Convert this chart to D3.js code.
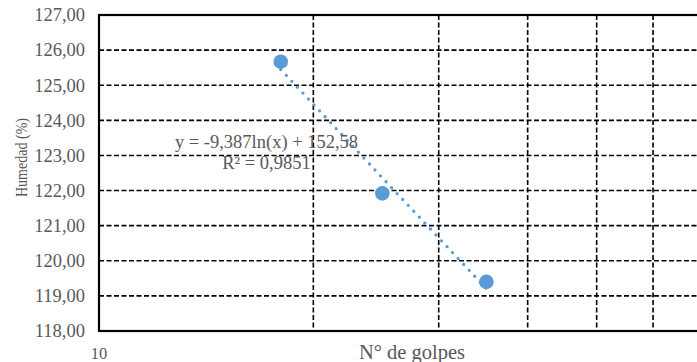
<!DOCTYPE html>
<html>
<head>
<meta charset="utf-8">
<script src="https://cdn.jsdelivr.net/npm/d3@7"></script>
<style>
  html, body { margin: 0; padding: 0; background: #fff; overflow: hidden; }
  svg { display: block; }
  text { font-family: "Liberation Serif", "Times New Roman", serif; fill: #595959; }
</style>
</head>
<body>
<svg id="chart" width="697" height="362"></svg>
<script>
// Number of blows vs moisture content (liquid limit test)
const golpes = [18, 25, 35];
const humedad = [125.67, 121.92, 119.40];

// Axis ticks
const yTicks = [118, 119, 120, 121, 122, 123, 124, 125, 126, 127];
const xLabelTicks = [10];
const xGridTicks = [20, 30, 40, 50, 60, 70, 80, 90];

// Logarithmic trendline y = a·ln(x) + b
const trendA = -9.387;
const trendB = 152.58;
const trendRange = [18, 35];
const trendText = ["y = -9,387ln(x) + 152,58", "R² = 0,9851"];

const xTitle = "N° de golpes";
const yTitle = "Humedad (%)";

const svg = d3.select("#chart");
const m = { left: 99, top: 15, bottom: 331, right: 811 };

const x = d3.scaleLog().domain([10, 100]).range([m.left, m.right]);
const y = d3.scaleLinear().domain([118, 127]).range([m.bottom, m.top]);

const es = d3.formatLocale({ decimal: ",", thousands: ".", grouping: [3], currency: ["", ""] });
const fmt = es.format(".2f");

// Horizontal gridlines
svg.append("g")
  .selectAll("line")
  .data(yTicks.filter(v => v > 118 && v < 127))
  .join("line")
  .attr("x1", m.left).attr("x2", m.right)
  .attr("y1", d => y(d)).attr("y2", d => y(d))
  .attr("stroke", "#000").attr("stroke-width", 1.6)
  .attr("stroke-dasharray", "5,2.5");

// Vertical gridlines
svg.append("g")
  .selectAll("line")
  .data(xGridTicks)
  .join("line")
  .attr("x1", d => x(d)).attr("x2", d => x(d))
  .attr("y1", m.top).attr("y2", m.bottom)
  .attr("stroke", "#000").attr("stroke-width", 1.6)
  .attr("stroke-dasharray", "5,2.5");

// Plot frame
svg.append("rect")
  .attr("x", m.left).attr("y", m.top)
  .attr("width", m.right - m.left).attr("height", m.bottom - m.top)
  .attr("fill", "none").attr("stroke", "#000").attr("stroke-width", 2.2);

// Y axis labels
svg.append("g")
  .selectAll("text")
  .data(yTicks)
  .join("text")
  .attr("x", 85)
  .attr("y", d => y(d))
  .attr("dy", "0.34em")
  .attr("text-anchor", "end")
  .style("font-size", "18.5px")
  .text(d => fmt(d));

// X axis labels
svg.append("g")
  .selectAll("text")
  .data(xLabelTicks)
  .join("text")
  .attr("x", d => x(d))
  .attr("y", 359)
  .attr("text-anchor", "middle")
  .style("font-size", "16.5px")
  .text(d => d3.format("d")(d));

// Axis titles
svg.append("text")
  .attr("x", 412).attr("y", 359)
  .attr("text-anchor", "middle")
  .style("font-size", "20.5px")
  .text(xTitle);

svg.append("text")
  .attr("transform", "translate(27,157.5) rotate(-90) scale(0.825,1)")
  .attr("text-anchor", "middle")
  .style("font-size", "17px")
  .text(yTitle);

// Trendline (dotted)
const trendPts = d3.range(0, 41).map(i => {
  const lx = Math.log(trendRange[0]) + i / 40 * (Math.log(trendRange[1]) - Math.log(trendRange[0]));
  const xv = Math.exp(lx);
  return [xv, trendA * lx + trendB];
});
svg.append("path")
  .datum(trendPts)
  .attr("d", d3.line().x(d => x(d[0])).y(d => y(d[1])))
  .attr("fill", "none")
  .attr("stroke", "#5B9BD5")
  .attr("stroke-width", 3.3)
  .attr("stroke-linecap", "round")
  .attr("stroke-dasharray", "0,8.1");

// Data points
svg.append("g")
  .selectAll("circle")
  .data(golpes.map((g, i) => [g, humedad[i]]))
  .join("circle")
  .attr("cx", d => x(d[0]))
  .attr("cy", d => y(d[1]))
  .attr("r", 7.3)
  .attr("fill", "#5B9BD5");

// Trendline equation
svg.append("g")
  .selectAll("text")
  .data(trendText)
  .join("text")
  .attr("x", 266.5)
  .attr("y", (d, i) => 148 + i * 21)
  .attr("text-anchor", "middle")
  .style("font-size", "18.5px")
  .text(d => d);
</script>
</body>
</html>
